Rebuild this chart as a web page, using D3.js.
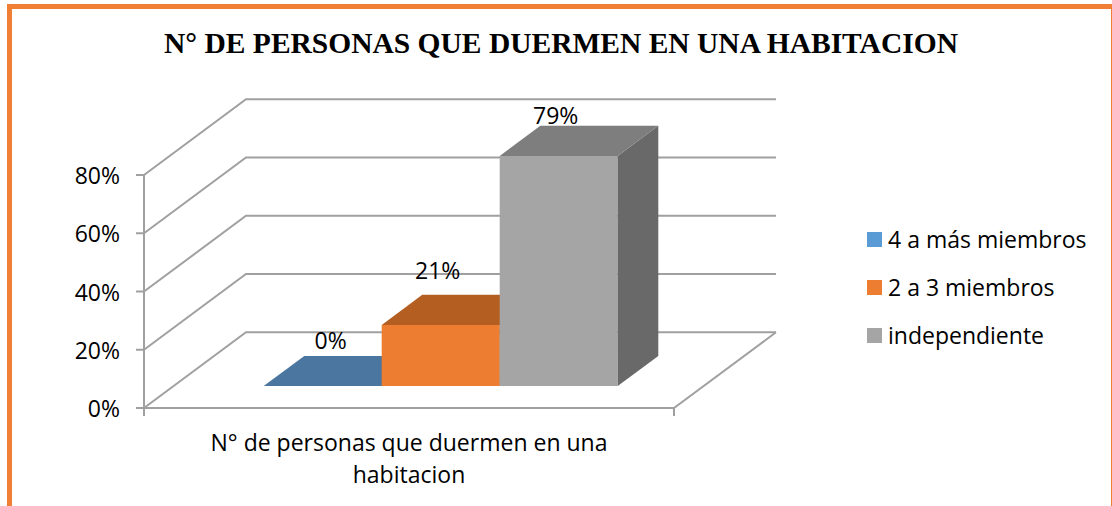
<!DOCTYPE html>
<html>
<head>
<meta charset="utf-8">
<style>
html,body{margin:0;padding:0;background:#fff;overflow:hidden}
svg{display:block}
text{font-family:"Open Sans",sans-serif;fill:#000}
</style>
<script src="https://cdn.jsdelivr.net/npm/d3@7/dist/d3.min.js"></script>
</head>
<body>
<svg id="c" width="1112" height="506"></svg>
<script>
const chartTitle = "N° DE PERSONAS QUE DUERMEN EN UNA HABITACION";
const categoryLines = ["N° de personas que duermen en una", "habitacion"];
const series = ["4 a más miembros", "2 a 3 miembros", "independiente"];
const values = [0, 21, 79];
const valueLabels = ["0%", "21%", "79%"];
const yTicks = [0, 20, 40, 60, 80];
const colors = ["#5B9BD5", "#ED7D31", "#A5A5A5"];
const topColors = ["#4A76A0", "#B55E22", "#7E7E7E"];
const sideColors = ["#3F6488", "#9A5020", "#696969"];

const svg = d3.select("#c");
const labelDx = [8, -3, -3], labelDy = [-37, -46, -32];
const y = d3.scaleLinear().domain([0, 80]).range([408, 175]);
const xFront = d3.scaleLinear().domain([0, 1]).range([144, 674]);
const depthX = d3.scaleLinear().domain([0, 1]).range([0, 102]);
const depthY = d3.scaleLinear().domain([0, 1]).range([0, -75.7]);
const band = d3.scaleBand().domain(series).range([xFront(0.17), xFront(0.838)]);
const barD0 = 0.29, barD1 = 0.688;
const pt = (x, v, d) => [x + depthX(d), y(v) + depthY(d)];
const line = d3.line();
const grid = "#A0A0A0";
const fs = "23px";

// orange frame
const frame = svg.append("g").attr("fill", "#F07F33");
frame.append("rect").attr("x", 7).attr("y", 4).attr("width", 1105).attr("height", 5);
frame.append("rect").attr("x", 7).attr("y", 4).attr("width", 5).attr("height", 502);
frame.append("rect").attr("x", 1111).attr("y", 4).attr("width", 1).attr("height", 502);

// title
svg.append("text").attr("x", 561).attr("y", 53).attr("text-anchor", "middle")
  .style("font-family", "'Liberation Serif',serif").style("font-weight", "bold")
  .style("font-size", "29.5px").text(chartTitle);

// walls and grid
const g = svg.append("g").attr("fill", "none").attr("stroke", grid).attr("stroke-width", 2);
yTicks.forEach(t => {
  g.append("path").attr("d", line([pt(xFront(0), t, 0), pt(xFront(0), t, 1), pt(xFront(1), t, 1)]));
  g.append("line").attr("x1", xFront(0) - 8).attr("x2", xFront(0))
    .attr("y1", y(t)).attr("y2", y(t));
});
g.append("path").attr("d", line([pt(xFront(0), 0, 0), pt(xFront(1), 0, 0), pt(xFront(1), 0, 1)]));
g.append("line").attr("x1", xFront(0)).attr("x2", xFront(0)).attr("y1", y(80)).attr("y2", y(0) + 8);
g.append("line").attr("x1", xFront(1)).attr("x2", xFront(1)).attr("y1", y(0)).attr("y2", y(0) + 8);

// y tick labels
svg.append("g").selectAll("text").data(yTicks).join("text")
  .attr("x", 120).attr("y", d => y(d) + 9).attr("text-anchor", "end")
  .style("font-size", fs).text(d => d + "%");

// bars
const bars = svg.append("g");
const labels = [];
series.forEach((s, i) => {
  const x0 = band(s), x1 = x0 + band.bandwidth(), v = values[i];
  const poly = (pts, fill) => bars.append("path").attr("d", line(pts) + "Z").attr("fill", fill);
  if (v > 0) {
    poly([pt(x0, 0, barD0), pt(x1, 0, barD0), pt(x1, v, barD0), pt(x0, v, barD0)], colors[i]);
    poly([pt(x1, 0, barD0), pt(x1, 0, barD1), pt(x1, v, barD1), pt(x1, v, barD0)], sideColors[i]);
  }
  poly([pt(x0, v, barD0), pt(x1, v, barD0), pt(x1, v, barD1), pt(x0, v, barD1)], topColors[i]);
  const c = pt(x0 + band.bandwidth() / 2, v, barD0);
  labels.push({x: c[0] + labelDx[i], y: c[1] + labelDy[i], t: valueLabels[i]});
});
svg.append("g").selectAll("text").data(labels).join("text")
  .attr("x", d => d.x).attr("y", d => d.y).attr("text-anchor", "middle")
  .style("font-size", fs).text(d => d.t);

// category label
svg.append("g").selectAll("text").data(categoryLines).join("text")
  .attr("x", 409).attr("y", (d, i) => 451 + i * 32).attr("text-anchor", "middle")
  .style("font-size", fs).text(d => d);

// legend
const lg = svg.append("g").selectAll("g").data(series).join("g")
  .attr("transform", (d, i) => `translate(867,${232 + i * 48})`);
lg.append("rect").attr("width", 15).attr("height", 15).attr("fill", (d, i) => colors[i]);
lg.append("text").attr("x", 21).attr("y", 15.5).style("font-size", fs).text(d => d);
</script>
</body>
</html>
